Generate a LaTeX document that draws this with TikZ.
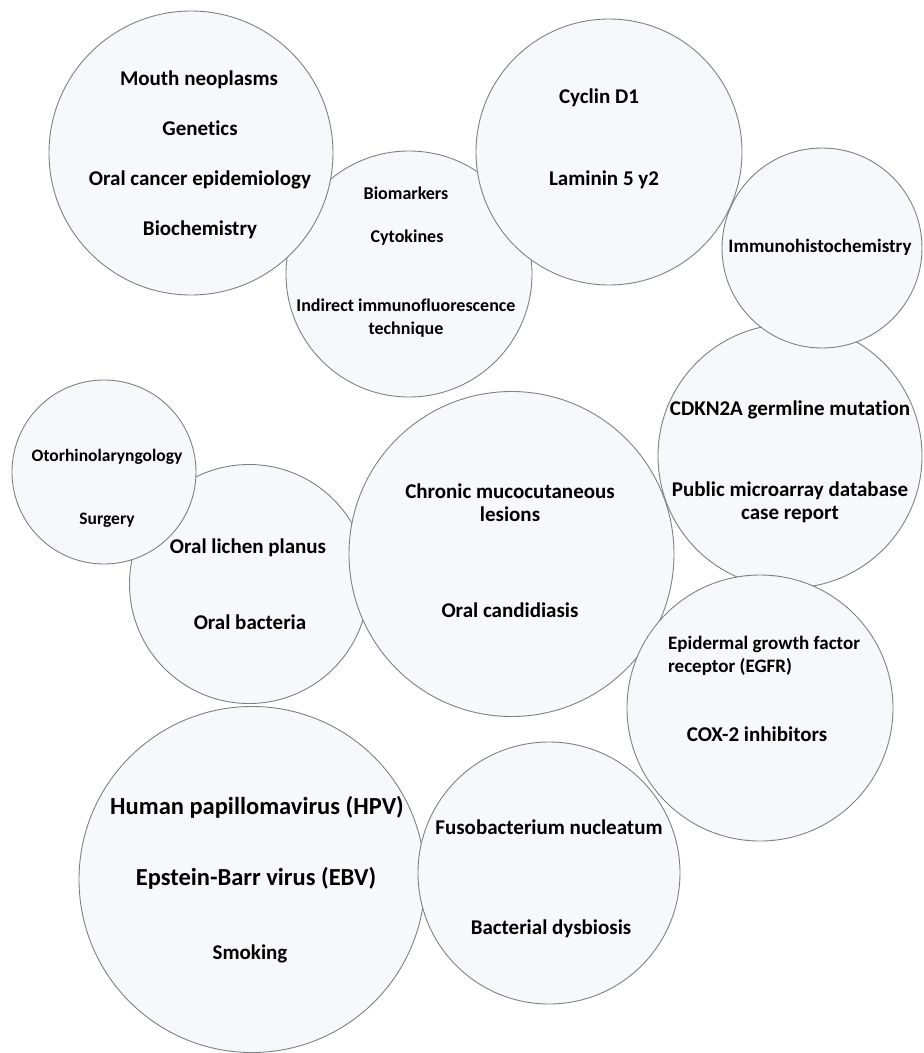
\documentclass[tikz,border=0pt]{standalone}
\usepackage{fontspec}
\setmainfont{Carlito}[Ligatures=NoCommon]
\definecolor{bubfill}{HTML}{F7F8FC}
\definecolor{bubline}{HTML}{808080}
\tikzset{%
    bub/.style={circle, draw=bubline, fill=bubfill, line width=0.9pt, inner sep=0pt},
    lab/.style={font=\bfseries\fontsize{#1}{23}\selectfont, inner sep=0pt, text height=0.7em, text depth=0.2em},
    lab/.default=21,
    labm/.style={font=\bfseries\fontsize{#1}{23}\selectfont, inner sep=0pt, align=center},
    labm/.default=21,
}
\begin{document}
\begin{tikzpicture}[x=1pt, y=-1pt]
    \useasboundingbox (0,0) rectangle (924,1053);
    % bubbles
    \node [bub, minimum size=246pt] (bio) at (409,274) {};
    \node [bub, minimum size=284pt] (neo) at (191,153) {};
    \node [bub, minimum size=266pt] (cyc) at (609,152) {};
    \node [bub, minimum size=264pt] (cdk) at (790,456) {};
    \node [bub, minimum size=200pt] (imm) at (822,248) {};
    \node [bub, minimum size=239pt] (lic) at (249,584) {};
    \node [bub, minimum size=184pt] (oto) at (104,472) {};
    \node [bub, minimum size=325pt] (chr) at (511.5,554) {};
    \node [bub, minimum size=266pt] (egf) at (760,708) {};
    \node [bub, minimum size=346pt] (hpv) at (252,879.5) {};
    \node [bub, minimum size=262pt] (fus) at (549,873) {};
    % labels
    \node [lab] (neo1) at (199,83) {Mouth neoplasms};
    \node [lab] (neo2) at (200,133) {Genetics};
    \node [lab] (neo3) at (200,183) {Oral cancer epidemiology};
    \node [lab] (neo4) at (200,233) {Biochemistry};
    \node [lab=18] (bio1) at (406,197) {Biomarkers};
    \node [lab=18] (bio2) at (407,240) {Cytokines};
    \node [labm=18] (bio3) at (406,318) {Indirect immunofluorescence\\technique};
    \node [lab] (cyc1) at (599,101) {Cyclin D1};
    \node [lab] (cyc2) at (604,183) {Laminin 5 y2};
    \node [lab=19] (imm1) at (820,250) {Immunohistochemistry};
    \node [lab] (cdk1) at (790,413) {CDKN2A germline mutation};
    \node [labm] (cdk2) at (790,502) {Public microarray database\\case report};
    \node [lab=17.5] (oto1) at (107,459) {Otorhinolaryngology};
    \node [lab=17.5] (oto2) at (107,522) {Surgery};
    \node [lab] (lic1) at (248,551) {Oral lichen planus};
    \node [lab] (lic2) at (250,627) {Oral bacteria};
    \node [labm] (chr1) at (510,503) {Chronic mucocutaneous\\lesions};
    \node [lab] (chr2) at (510,615) {Oral candidiasis};
    \node [labm=19, align=left, anchor=west] (egf1) at (668,656) {Epidermal growth factor\\receptor (EGFR)};
    \node [lab] (egf2) at (757,739) {COX-2 inhibitors};
    \node [lab=24.5] (hpv1) at (257,812) {Human papillomavirus (HPV)};
    \node [lab=24.5] (hpv2) at (256,883) {Epstein-Barr virus (EBV)};
    \node [lab] (hpv3) at (250,957) {Smoking};
    \node [lab] (fus1) at (549,832) {Fusobacterium nucleatum};
    \node [lab] (fus2) at (551,932) {Bacterial dysbiosis};
\end{tikzpicture}
\end{document}
